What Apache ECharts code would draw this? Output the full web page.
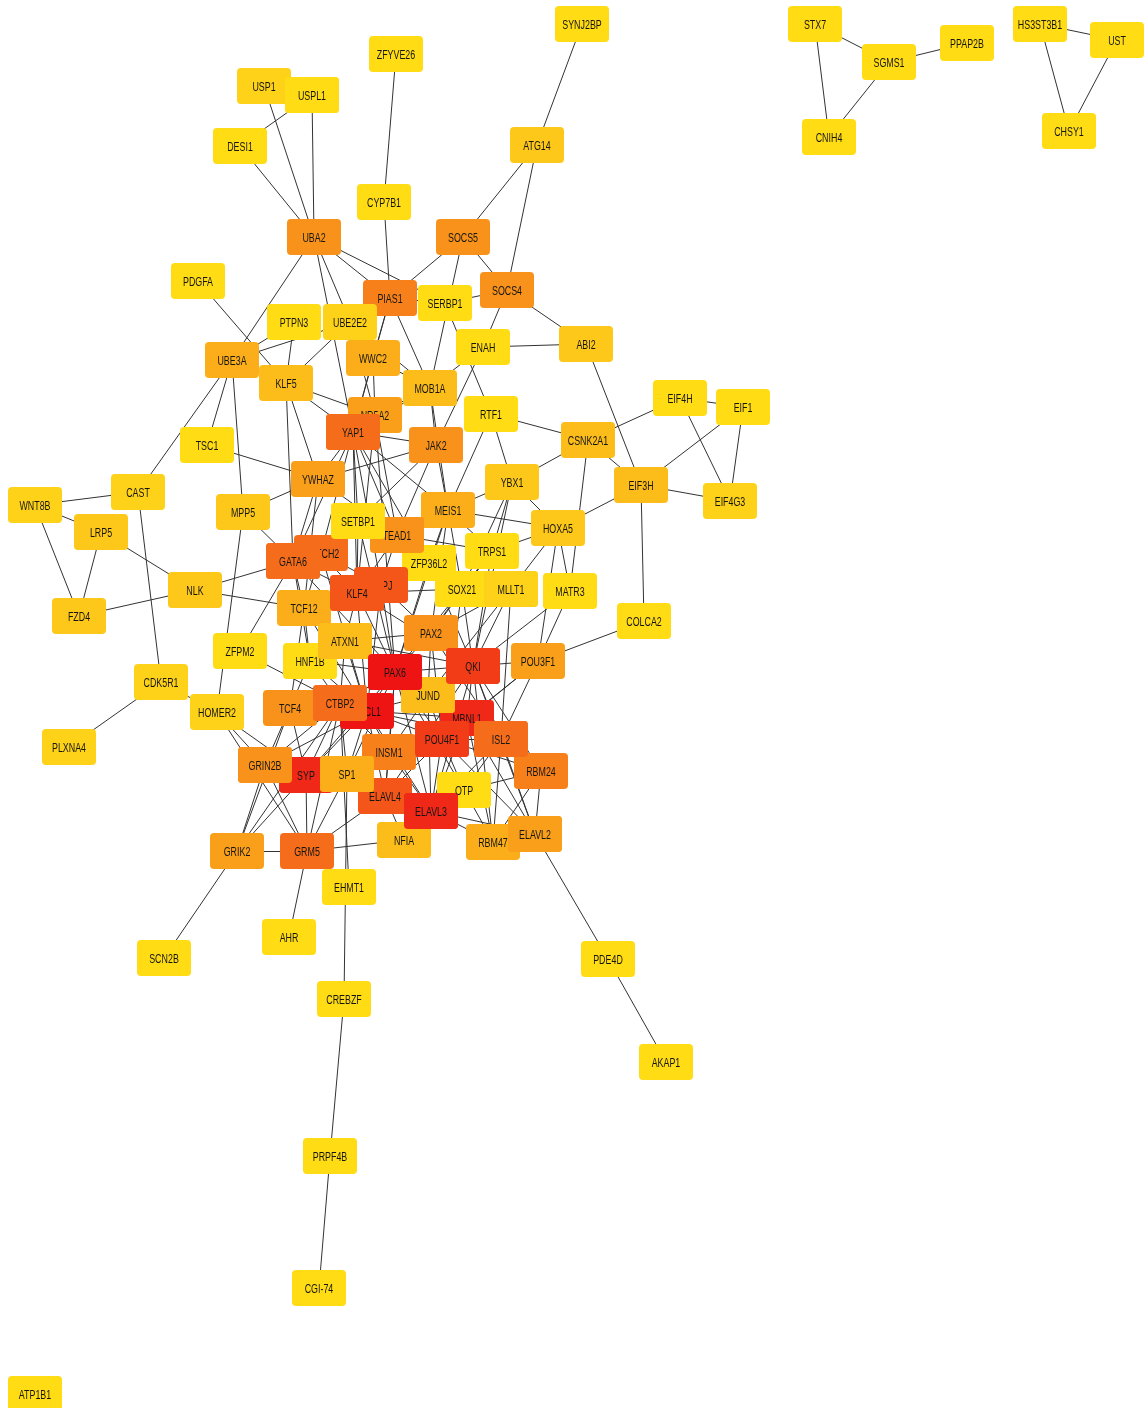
<!DOCTYPE html>
<html>
<head>
<meta charset="utf-8">
<title>PPI network</title>
<script src="https://cdn.jsdelivr.net/npm/echarts@6/dist/echarts.min.js"></script>
<style>
  html, body { margin: 0; padding: 0; background: #ffffff; }
  #chart { width: 1144px; height: 1408px; }
</style>
</head>
<body>
<div id="chart"></div>
<script>
// Genes in drawing order (later entries are painted on top of earlier ones)
const geneNames = [
  'STX7','SGMS1','PPAP2B','CNIH4','HS3ST3B1','UST','CHSY1',
  'SYNJ2BP','ZFYVE26','USP1','USPL1','DESI1','ATG14','CYP7B1',
  'UBA2','SOCS5','PDGFA','PIAS1','SERBP1','SOCS4','PTPN3','UBE2E2',
  'UBE3A','WWC2','ENAH','ABI2','KLF5','MOB1A','NR5A2','YAP1','RTF1','JAK2','TSC1',
  'EIF4H','EIF1','CSNK2A1','EIF3H','EIF4G3','YWHAZ','YBX1','CAST','WNT8B',
  'MPP5','MEIS1','ZFP36L2','TEAD1','SETBP1','HOXA5','LRP5','NOTCH2','GATA6','TRPS1',
  'RBPJ','KLF4','SOX21','MLLT1','MATR3','NLK','FZD4','TCF12','COLCA2','PAX2',
  'HNF1B','ATXN1','ZFPM2','MBNL1','JUND','PAX6','QKI','POU3F1','CDK5R1','HOMER2',
  'TCF4','ASCL1','CTBP2','POU4F1','ISL2','INSM1','PLXNA4','GRIN2B','SYP','ELAVL4','SP1',
  'RBM24','OTP','ELAVL3','RBM47','ELAVL2','NFIA','GRIK2','GRM5','EHMT1','AHR','SCN2B',
  'PDE4D','CREBZF','AKAP1','PRPF4B','CGI-74','ATP1B1'
];

// Layout coordinates of each gene (same order as geneNames)
const layoutX = [
  815,889,967,829,1040,1117,1069,
  582,396,264,312,240,537,384,
  314,463,198,390,445,507,294,350,
  232,373,483,586,286,430,375,353,491,436,207,
  680,743,588,641,730,318,512,138,35,
  243,448,429,397,358,558,101,321,293,492,
  381,357,462,511,570,195,79,304,644,431,
  310,345,240,467,428,395,473,538,161,217,
  290,367,340,442,501,389,69,265,306,385,347,
  541,464,431,493,535,404,237,307,349,289,164,
  608,344,666,330,319,35
];
const layoutY = [
  24,62,43,137,24,40,131,
  24,54,86,95,146,145,202,
  237,237,281,298,303,290,322,322,
  360,358,347,344,383,388,415,432,414,445,445,
  398,407,440,485,501,479,482,492,505,
  512,510,563,535,521,528,532,553,561,551,
  585,593,589,589,591,590,616,608,621,633,
  661,641,651,718,695,672,666,661,682,712,
  708,711,703,739,739,752,747,765,775,796,774,
  771,790,811,842,834,840,851,851,887,937,958,
  959,999,1062,1156,1288,1394
];

// Degree class of each gene: 0 = fewest links (yellow) ... 12 = most links (red)
const degreeClass = [
  0,0,0,0,0,0,0,
  0,0,1,0,0,2,0,
  6,6,0,7,0,6,0,1,
  4,4,0,2,3,3,5,8,0,6,0,
  0,0,3,3,1,5,2,1,1,
  2,4,0,6,0,2,2,8,8,0,
  9,9,0,1,0,2,2,4,0,6,
  0,3,0,11,3,12,10,5,1,1,
  6,12,8,10,8,7,1,6,11,9,4,
  7,0,11,4,5,3,5,8,0,0,0,
  0,0,0,0,0,0
];

// Yellow-to-red ramp for the degree classes
const classColors = [
  '#FFDC14','#FED218','#FDC81A','#FCBC1A','#FBAE1A','#FA9F1A','#F8921A',
  '#F7801A','#F56C1A','#F4561A','#F23C18','#F02818','#EF1414'
];

// Genes whose boxes sit on top of their overlapping neighbours
const foregroundGenes = [
  'USPL1','YAP1','SETBP1','GATA6','KLF4','MLLT1','ATXN1','JUND','PAX6','QKI',
  'CTBP2','POU4F1','ISL2','GRIN2B','SP1','ELAVL3','ELAVL2'
];

// Protein-protein interactions
const interactions = [
  ['STX7','SGMS1'],['STX7','CNIH4'],['SGMS1','PPAP2B'],['SGMS1','CNIH4'],
  ['HS3ST3B1','UST'],['HS3ST3B1','CHSY1'],['UST','CHSY1'],
  ['SYNJ2BP','ATG14'],['ATG14','SOCS5'],['ATG14','SOCS4'],['ZFYVE26','CYP7B1'],['CYP7B1','PIAS1'],
  ['USP1','UBA2'],['USPL1','UBA2'],['USPL1','DESI1'],['DESI1','UBA2'],
  ['UBA2','PIAS1'],['UBA2','SERBP1'],['UBA2','UBE3A'],['UBA2','UBE2E2'],['UBA2','YAP1'],
  ['SOCS5','PIAS1'],['SOCS5','SOCS4'],['SOCS5','MOB1A'],
  ['SERBP1','SOCS4'],['SERBP1','RTF1'],['PIAS1','SERBP1'],
  ['SOCS4','ABI2'],['SOCS4','ENAH'],['ENAH','ABI2'],['ABI2','EIF3H'],
  ['ENAH','MOB1A'],['ENAH','JAK2'],
  ['PIAS1','MOB1A'],['PIAS1','YAP1'],['PIAS1','WWC2'],
  ['PDGFA','KLF5'],
  ['PTPN3','UBE3A'],['PTPN3','KLF5'],
  ['UBE3A','UBE2E2'],['UBE3A','KLF5'],['UBE3A','TSC1'],['UBE3A','CAST'],['UBE3A','MPP5'],
  ['UBE2E2','KLF5'],['UBE2E2','NR5A2'],['UBE2E2','MOB1A'],
  ['WWC2','MOB1A'],['WWC2','YAP1'],['WWC2','NR5A2'],
  ['KLF5','NR5A2'],['KLF5','YWHAZ'],['KLF5','GATA6'],['KLF5','YAP1'],
  ['MOB1A','YAP1'],['MOB1A','JAK2'],['MOB1A','NR5A2'],['MOB1A','MEIS1'],
  ['TSC1','YWHAZ'],
  ['MPP5','YWHAZ'],['MPP5','GATA6'],['MPP5','HOMER2'],
  ['RTF1','CSNK2A1'],['RTF1','YBX1'],['RTF1','MEIS1'],
  ['JAK2','YAP1'],['JAK2','YWHAZ'],['JAK2','SETBP1'],['JAK2','MEIS1'],['JAK2','TEAD1'],
  ['YAP1','TEAD1'],['YAP1','YWHAZ'],['YAP1','MEIS1'],['YAP1','SETBP1'],['YAP1','KLF4'],
  ['YAP1','RBPJ'],['YAP1','GATA6'],['YAP1','NOTCH2'],['YAP1','ZFP36L2'],
  ['NR5A2','TEAD1'],['NR5A2','PAX6'],['NR5A2','KLF4'],
  ['YWHAZ','GATA6'],['YWHAZ','TEAD1'],['YWHAZ','TCF12'],
  ['CSNK2A1','EIF4H'],['CSNK2A1','EIF3H'],['CSNK2A1','MATR3'],['CSNK2A1','YBX1'],
  ['EIF4H','EIF1'],['EIF4H','EIF4G3'],['EIF1','EIF4G3'],['EIF1','EIF3H'],['EIF3H','EIF4G3'],
  ['EIF3H','HOXA5'],['EIF3H','COLCA2'],['COLCA2','POU3F1'],
  ['HOXA5','MATR3'],['HOXA5','YBX1'],['HOXA5','MEIS1'],['HOXA5','TRPS1'],['HOXA5','POU3F1'],['HOXA5','MLLT1'],
  ['MATR3','POU3F1'],['MATR3','QKI'],
  ['YBX1','TRPS1'],['YBX1','MEIS1'],['YBX1','SOX21'],['YBX1','QKI'],
  ['MEIS1','TEAD1'],['MEIS1','PAX6'],['MEIS1','PAX2'],['MEIS1','SOX21'],['MEIS1','ZFP36L2'],['MEIS1','TRPS1'],
  ['SETBP1','KLF4'],['SETBP1','PAX6'],
  ['TEAD1','ZFP36L2'],['TEAD1','KLF4'],['TEAD1','RBPJ'],['TEAD1','TRPS1'],
  ['NOTCH2','GATA6'],['NOTCH2','RBPJ'],['NOTCH2','KLF4'],['NOTCH2','ASCL1'],['NOTCH2','TCF12'],
  ['GATA6','NLK'],['GATA6','ZFPM2'],['GATA6','TCF12'],['GATA6','KLF4'],['GATA6','HNF1B'],['GATA6','PAX6'],
  ['WNT8B','CAST'],['WNT8B','LRP5'],['WNT8B','FZD4'],['LRP5','FZD4'],['LRP5','NLK'],['FZD4','NLK'],
  ['NLK','TCF12'],['CAST','CDK5R1'],['CDK5R1','PLXNA4'],['CDK5R1','HOMER2'],
  ['ZFPM2','CTBP2'],
  ['TRPS1','SOX21'],['TRPS1','QKI'],['TRPS1','PAX2'],
  ['ZFP36L2','PAX6'],['ZFP36L2','QKI'],['ZFP36L2','SOX21'],
  ['RBPJ','KLF4'],['RBPJ','PAX6'],['RBPJ','ASCL1'],['RBPJ','PAX2'],
  ['KLF4','PAX6'],['KLF4','ATXN1'],['KLF4','TCF12'],['KLF4','QKI'],['KLF4','SOX21'],['KLF4','ASCL1'],
  ['SOX21','PAX6'],['SOX21','PAX2'],['SOX21','POU4F1'],['SOX21','QKI'],
  ['MLLT1','QKI'],['MLLT1','PAX2'],['MLLT1','ISL2'],['MLLT1','JUND'],
  ['TCF12','ATXN1'],['TCF12','HNF1B'],['TCF12','ASCL1'],['TCF12','PAX6'],['TCF12','TCF4'],
  ['PAX2','PAX6'],['PAX2','QKI'],['PAX2','JUND'],['PAX2','ATXN1'],['PAX2','POU4F1'],['PAX2','ISL2'],
  ['ATXN1','PAX6'],['ATXN1','HNF1B'],['ATXN1','ASCL1'],['ATXN1','CTBP2'],['ATXN1','QKI'],
  ['HNF1B','PAX6'],['HNF1B','ASCL1'],['HNF1B','TCF4'],['HNF1B','CTBP2'],
  ['PAX6','QKI'],['PAX6','JUND'],['PAX6','ASCL1'],['PAX6','CTBP2'],['PAX6','INSM1'],['PAX6','POU4F1'],
  ['PAX6','MBNL1'],['PAX6','ISL2'],['PAX6','ELAVL4'],['PAX6','ELAVL3'],['PAX6','OTP'],['PAX6','SP1'],['PAX6','SYP'],
  ['QKI','POU3F1'],['QKI','MBNL1'],['QKI','JUND'],['QKI','RBM24'],['QKI','ELAVL2'],['QKI','ELAVL4'],
  ['QKI','ISL2'],['QKI','ELAVL3'],['QKI','RBM47'],
  ['POU3F1','ISL2'],['POU3F1','POU4F1'],['POU3F1','MBNL1'],
  ['JUND','ASCL1'],['JUND','MBNL1'],['JUND','POU4F1'],['JUND','ELAVL3'],['JUND','INSM1'],
  ['TCF4','CTBP2'],['TCF4','ASCL1'],['TCF4','GRIN2B'],['TCF4','SYP'],['TCF4','GRIK2'],
  ['CTBP2','ASCL1'],['CTBP2','SYP'],['CTBP2','GRIN2B'],['CTBP2','GRIK2'],['CTBP2','GRM5'],
  ['CTBP2','SP1'],['CTBP2','INSM1'],['CTBP2','EHMT1'],
  ['ASCL1','INSM1'],['ASCL1','POU4F1'],['ASCL1','ELAVL4'],['ASCL1','ELAVL3'],['ASCL1','SYP'],
  ['ASCL1','SP1'],['ASCL1','ISL2'],['ASCL1','GRIN2B'],['ASCL1','MBNL1'],
  ['MBNL1','ISL2'],['MBNL1','RBM24'],['MBNL1','RBM47'],['MBNL1','ELAVL2'],['MBNL1','ELAVL3'],['MBNL1','POU4F1'],
  ['POU4F1','ISL2'],['POU4F1','INSM1'],['POU4F1','OTP'],['POU4F1','ELAVL3'],['POU4F1','ELAVL4'],
  ['POU4F1','RBM24'],['POU4F1','ELAVL2'],
  ['ISL2','RBM24'],['ISL2','ELAVL2'],['ISL2','OTP'],['ISL2','RBM47'],['ISL2','ELAVL3'],
  ['INSM1','ELAVL4'],['INSM1','ELAVL3'],['INSM1','SYP'],['INSM1','SP1'],
  ['GRIN2B','GRIK2'],['GRIN2B','GRM5'],['GRIN2B','SYP'],
  ['HOMER2','GRIN2B'],['HOMER2','SYP'],['HOMER2','GRM5'],
  ['SYP','SP1'],['SYP','GRIK2'],['SYP','GRM5'],['SYP','ELAVL4'],
  ['SP1','GRM5'],['SP1','CREBZF'],['SP1','ELAVL4'],['SP1','ELAVL3'],
  ['RBM24','OTP'],['RBM24','ELAVL2'],['RBM24','RBM47'],
  ['OTP','ELAVL3'],['OTP','RBM47'],
  ['ELAVL4','ELAVL3'],['ELAVL4','NFIA'],['ELAVL4','GRM5'],
  ['ELAVL3','RBM47'],['ELAVL3','ELAVL2'],['ELAVL3','NFIA'],
  ['ELAVL2','RBM47'],['ELAVL2','PDE4D'],['PDE4D','AKAP1'],
  ['NFIA','GRM5'],
  ['GRIK2','GRM5'],['GRIK2','SCN2B'],['GRM5','AHR'],
  ['CREBZF','PRPF4B'],['PRPF4B','CGI-74']
];

// Rounded-rectangle node outline, stretched to the node size
const nodeShape = 'path://M4,0H50A4,4 0 0 1 54,4V32A4,4 0 0 1 50,36H4A4,4 0 0 1 0,32V4A4,4 0 0 1 4,0Z';
const isFront = new Set(foregroundGenes);

const baseNodes = geneNames.map((name, i) => ({
  name: name,
  x: layoutX[i],
  y: layoutY[i],
  itemStyle: { color: classColors[degreeClass[i]] }
}));

// Second pass repaints only the foreground boxes; the others stay invisible
// but keep the same extent so both passes share one coordinate mapping.
const frontNodes = geneNames.map((name, i) => ({
  name: name,
  x: layoutX[i],
  y: layoutY[i],
  itemStyle: isFront.has(name)
    ? { color: classColors[degreeClass[i]] }
    : { color: 'rgba(0,0,0,0)', opacity: 0 }
}));

const links = interactions.map(([s, t]) => ({ source: s, target: t }));

// Place the view so one layout unit equals one pixel
const minX = Math.min(...layoutX), maxX = Math.max(...layoutX);
const minY = Math.min(...layoutY), maxY = Math.max(...layoutY);
const viewBox = { left: minX, top: minY, width: maxX - minX, height: maxY - minY };

function graphSeries(id, z, data, withLinks) {
  return Object.assign({
    id: id,
    type: 'graph',
    layout: 'none',
    z: z,
    roam: false,
    symbol: nodeShape,
    symbolSize: [54, 36],
    data: data,
    links: withLinks ? links : [],
    lineStyle: { color: '#333333', width: 1, opacity: 1, curveness: 0 },
    label: { show: false },
    emphasis: { disabled: true },
    silent: true
  }, viewBox);
}

const chart = echarts.init(document.getElementById('chart'), null, { renderer: 'canvas' });
chart.setOption({
  backgroundColor: '#ffffff',
  animation: false,
  series: [
    graphSeries('network', 2, baseNodes, true),
    graphSeries('foreground', 4, frontNodes, false)
  ]
});

// Gene labels: narrow type centred on each box, layered with the box they belong to
const labelElements = geneNames.map((name, i) => {
  const p = chart.convertToPixel({ seriesIndex: 0 }, [layoutX[i], layoutY[i]]);
  return {
    type: 'text',
    x: p[0],
    y: p[1] + 1.5,
    scaleX: 0.71,
    z: isFront.has(name) ? 5 : 3,
    silent: true,
    style: {
      text: name,
      x: 0,
      y: 0,
      align: 'center',
      verticalAlign: 'middle',
      fontSize: 12.5,
      fontFamily: "'Liberation Sans', Arial, sans-serif",
      fill: '#161616'
    }
  };
});
chart.setOption({ graphic: { elements: labelElements } });
</script>
</body>
</html>
